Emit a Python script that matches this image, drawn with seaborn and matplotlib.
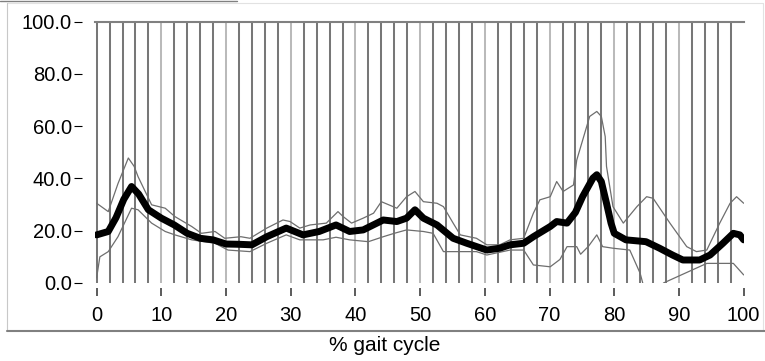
import matplotlib
matplotlib.use("Agg")
import matplotlib.pyplot as plt
from matplotlib.lines import Line2D
import pandas as pd
import seaborn as sns

# Mean curve (% gait cycle -> value)
mean_pct = [0, 1.8, 3, 4.2, 5.4, 6.5, 8, 10, 12, 14, 16, 18, 20, 22, 24, 26.3, 29.3, 31.9,
            34.4, 37, 39.1, 41.2, 44.3, 46.4, 47.9, 49.2, 50.5, 52.6, 55.1, 57.2, 60.3, 62.3,
            63.9, 66, 67.5, 70.1, 71.1, 72.7, 74, 75.1, 76.7, 77.3, 78, 78.8, 79.5, 80, 81.8,
            84.9, 87, 89, 90.6, 93.2, 94.8, 96.8, 98.4, 99.4, 100]
mean_val = [18.4, 19.7, 25, 32, 36.9, 34, 28, 24.8, 22.2, 19, 17.1, 16.5, 14.9, 14.8, 14.6,
            17.7, 21, 18.4, 19.7, 22.2, 19.7, 20.3, 24.1, 23.5, 24.8, 28, 24.8, 22.2, 17.1,
            15.2, 12.6, 13.3, 14.6, 15.2, 17.7, 21.6, 23.5, 22.9, 27, 33, 40.1, 41.4, 38.8,
            30.5, 22.9, 19, 16.5, 15.8, 13.3, 10.7, 8.8, 8.8, 10.7, 15.2, 19, 18.4, 16.5]

# Upper band
upper_pct = [0, 1.8, 3.3, 4.9, 5.8, 6.4, 8.5, 10.6, 12.1, 14.7, 16.2, 18.3, 19.8, 22.3, 23.7,
             26.3, 28.8, 29.9, 31.4, 33, 35.5, 37.3, 38.1, 39.4, 41.2, 42.8, 44, 46.4, 47.9,
             49.2, 50.5, 52.6, 53.6, 55.1, 56.2, 58.7, 60.3, 62.3, 63.9, 66, 67.5, 68.5, 70.1,
             71.1, 72.1, 73.7, 74.2, 74.8, 76.2, 77.3, 78, 78.6, 78.8, 79.8, 81.4, 83.5, 85,
             86, 88.6, 91.2, 92.7, 94.3, 96.3, 97.9, 98.9, 100]
upper_val = [30.5, 27.3, 38, 47.8, 44.6, 40.7, 29.9, 28.6, 25.4, 21.6, 19, 19.7, 17.1, 17.7,
             17.1, 21, 24.1, 23.5, 21, 22.2, 22.9, 27.3, 25.4, 22.9, 24.8, 26.7, 31.1, 28.6,
             33, 35, 31.1, 30.5, 29.2, 22.9, 18.4, 17.1, 14.6, 14.6, 16.5, 17.1, 26.7, 31.8,
             33, 38.8, 35, 37.5, 47, 52, 63.7, 65.6, 63.7, 56, 44.6, 29.2, 22.9, 29.2, 33,
             32.4, 22.9, 13.9, 12, 12.6, 22.9, 30.5, 33, 30.5]

# Lower band (falls off the bottom of the scale between ~84 and ~88 %)
lower_pct = [0, 0.5, 1.8, 3.3, 5.4, 6.4, 8.5, 10.6, 12.1, 14.7, 18.3, 20.3, 23.7, 26.3, 29.3,
             31.4, 35, 37, 39.1, 42, 44.3, 46, 47.9, 50.5, 52, 53.6, 58.7, 60.3, 63.9, 66,
             67.5, 70.1, 71.6, 72.7, 74.2, 74.8, 76, 77.3, 78.2, 79.8, 82.4, 84, 84.4]
lower_val = [2, 10, 12, 17.7, 28.6, 28, 22.9, 19.7, 18.4, 16.5, 15.2, 12.6, 12, 15.2, 18.4,
             16.5, 16.5, 17.5, 16.5, 15.8, 17.7, 19, 20.3, 19.7, 19, 12, 12, 10.7, 12.6, 12.6,
             6.9, 6.2, 9, 13.9, 13.9, 11, 14, 18.4, 13.9, 13.3, 12.6, 3.7, 0]
lower_tail_pct = [87.6, 94.3, 98.4, 100]
lower_tail_val = [0, 7.5, 7.5, 3.1]

y_ticks = [0, 20, 40, 60, 80, 100]
y_labels = ["0.0", "20.0", "40.0", "60.0", "80.0", "100.0"]
x_ticks = [0, 10, 20, 30, 40, 50, 60, 70, 80, 90, 100]
x_labels = ["0", "10", "20", "30", "40", "50", "60", "70", "80", "90", "100"]

sns.set_theme(style="white")
plt.rcParams["font.family"] = ["Liberation Sans", "DejaVu Sans"]

W, H = 765, 361
fig = plt.figure(figsize=(W / 100, H / 100), dpi=100)
fig.patch.set_facecolor("white")
ax = fig.add_axes([95 / W, 1 - 283 / H, (744 - 95) / W, (283 - 21.5) / H])
ax.set_facecolor("white")

# vertical cycle markers every 2 %, lighter at the decades
dark_x = [v for v in range(0, 100, 2) if v % 10 != 0 or v == 0]
light_x = [v for v in range(10, 100, 10)]
ax.vlines(dark_x, 0, 100, colors="#777777", lw=1.45, zorder=1)
ax.vlines(light_x, 0, 100, colors="#bababa", lw=1.45, zorder=1)

band_kw = dict(color="#6e6e6e", lw=0.9, estimator=None, sort=False, ax=ax, zorder=3)
sns.lineplot(data=pd.DataFrame({"pct": upper_pct, "val": upper_val}), x="pct", y="val", **band_kw)
sns.lineplot(data=pd.DataFrame({"pct": lower_pct, "val": lower_val}), x="pct", y="val", **band_kw)
sns.lineplot(data=pd.DataFrame({"pct": lower_tail_pct, "val": lower_tail_val}), x="pct", y="val", **band_kw)
sns.lineplot(data=pd.DataFrame({"pct": mean_pct, "val": mean_val}), x="pct", y="val",
             color="black", lw=5.0, estimator=None, sort=False, ax=ax, zorder=4)

ax.set_xlim(-0.25, 100.05)
ax.set_ylim(0, 100)

for side in ("left", "right", "bottom"):
    ax.spines[side].set_visible(False)
ax.spines["top"].set_color("#808080")
ax.spines["top"].set_linewidth(1.5)
ax.spines["left"].set_position(("outward", 9.5))
ax.spines["bottom"].set_position(("outward", 3.6))

ax.set_yticks(y_ticks)
ax.set_yticklabels(y_labels)
ax.set_xticks(x_ticks)
ax.set_xticklabels(x_labels)
ax.tick_params(axis="y", left=True, length=5.5, width=0.8, color="black", pad=1.5,
               labelsize=14.5, labelcolor="black")
ax.tick_params(axis="x", bottom=True, length=5.8, width=1.2, color="#404040", pad=7,
               labelsize=14.5, labelcolor="black")
ax.grid(False)

ax.set_xlabel("% gait cycle", fontsize=15, color="black")
ax.xaxis.set_label_coords((385 - 95) / (744 - 95), -(336 - 283) / (283 - 21.5))
ax.set_ylabel("")

# panel frame
def px_line(x0, y0, x1, y1, color, lw):
    fig.add_artist(Line2D([x0 / W, x1 / W], [1 - y0 / H, 1 - y1 / H],
                          transform=fig.transFigure, color=color, lw=lw))

px_line(0, 0.6, 237, 0.6, "#808080", 1.0)
px_line(7, 3, 763, 3, "#e2e2e2", 0.8)
px_line(763, 3, 763, 331, "#e2e2e2", 0.8)
px_line(7, 3, 7, 331, "#c8c8c8", 0.8)
px_line(7, 330.5, 765, 330.5, "#808080", 1.5)

fig.savefig("out.png", dpi=100, facecolor="white")
